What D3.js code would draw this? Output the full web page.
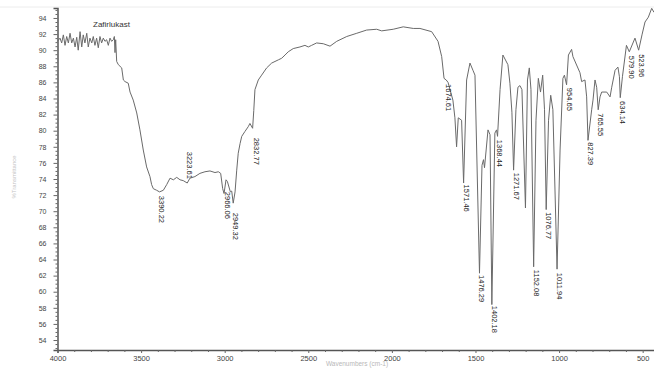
<!DOCTYPE html>
<html>
<head>
<meta charset="utf-8">
<script src="https://cdn.jsdelivr.net/npm/d3@7/dist/d3.min.js"></script>
<style>
body { margin: 0; background: #fff; }
text { font-family: "Liberation Sans", Arial, sans-serif; }
</style>
</head>
<body>
<div id="chart"></div>
<script>
// spectrum (cm-1 / %T)
var wavenumber = [4000,3985,3975,3965,3955,3945,3935,3925,3915,3905,3895,3885,3876,3865,3855,3846,3836,3825,3816,3806,
  3795,3786,3776,3766,3756,3746,3736,3726,3716,3706,3696,3686,3676,3666,3660,3656,3652,3646,3636,3626,
  3616,3606,3596,3577,3566,3547,3526,3507,3487,3467,3447,3437,3427,3407,3390,3367,3347,3327,3307,3287,
  3267,3248,3224,3208,3178,3148,3118,3088,3058,3038,3024,3012,3004,2992,2984,2966,2958,2949,2938,2928,
  2919,2908,2898,2879,2859,2849,2833,2826,2819,2799,2779,2749,2719,2679,2659,2639,2620,2590,2550,2520,
  2500,2480,2450,2410,2370,2330,2270,2210,2151,2091,2061,1992,1932,1872,1832,1762,1724,1702,1688,1675,
  1664,1635,1623,1613,1603,1583,1571,1553,1533,1515,1503,1476,1461,1452,1446,1425,1413,1402,1384,1374,
  1368,1353,1336,1306,1294,1282,1272,1258,1246,1234,1222,1201,1189,1178,1168,1152,1138,1124,1111,1098,
  1087,1077,1063,1050,1037,1012,994,977,968,955,944,925,917,875,865,845,835,827,805,797,
  785,775,766,755,745,715,695,685,665,648,639,634,621,597,580,546,524,504,486,466,446,432];
var transmittance = [91.1,91.5,90.9,91.9,90.6,91.7,90.9,92.1,90.9,91.5,90.4,91.6,90.0,92.3,90.4,91.9,90.9,92.1,90.4,91.5,
  90.9,91.7,90.6,91.5,90.3,91.7,90.9,91.5,91.1,91.3,90.6,91.5,91.1,91.3,91.7,89.7,91.3,88.6,88.2,88.0,
  87.8,86.3,86.1,85.9,84.8,83.8,82.2,80.1,77.6,75.5,74.3,73.3,72.8,72.6,72.4,72.6,73.3,74.1,73.9,74.2,
  73.9,73.8,73.5,74.1,74.3,74.7,74.9,75.0,74.8,74.9,74.7,72.8,72.2,73.9,73.7,72.4,72.5,71.0,72.4,75.1,
  77.2,78.4,79.3,79.9,80.5,80.9,80.3,82.5,85.1,86.3,86.9,87.8,88.4,88.8,89.0,89.4,89.8,90.2,90.4,90.6,
  90.4,90.6,90.9,90.8,90.5,91.1,91.7,92.1,92.5,92.6,92.4,92.6,92.9,92.7,92.7,92.3,91.1,89.2,86.5,86.3,
  86.0,83.8,81.6,78.0,81.6,81.3,73.5,86.3,88.4,87.5,86.9,62.3,75.7,76.4,75.4,80.1,79.5,58.4,79.7,80.1,
  79.3,85.1,89.4,88.2,85.9,82.3,75.1,82.6,85.4,85.6,85.1,70.4,86.3,87.8,85.1,63.1,81.3,86.5,84.8,86.9,
  82.6,70.2,81.3,84.4,82.6,62.8,77.6,86.5,86.9,85.7,89.4,90.1,89.2,87.2,86.1,86.3,84.2,78.8,82.6,83.8,
  86.3,85.4,82.6,84.2,84.8,84.8,84.2,85.4,87.5,87.9,86.7,84.1,86.7,90.6,89.8,91.5,90.0,91.9,93.5,94.1,95.2,94.7];

var peaks = [3390.22,3223.61,2966.06,2949.32,2832.77,1674.61,1571.46,1476.29,1402.18,1368.44,1271.67,
  1152.08,1076.77,1011.94,954.65,827.39,765.55,634.14,579.90,523.96];
var peaksAbove = [3223.61];

var xTicks = [4000,3500,3000,2500,2000,1500,1000,500];
var yTicks = d3.range(54, 95, 2);

var title = "Zafirlukast";
var xTitle = "Wavenumbers (cm-1)";
var yTitle = "%Transmittance";

// small label shifts so the crowded C-H labels do not collide
var labelNudge = { "2966.06": [-5, -4], "2949.32": [0, 6], "2832.77": [1, 6] };

var w = 654, h = 368;
var svg = d3.select("#chart").append("svg")
    .attr("width", w).attr("height", h)
    .style("display", "block");

var x = d3.scaleLinear().domain([4000, 428]).range([57.5, 654.7]);
var y = d3.scaleLinear().domain([52.76, 95.24]).range([350, 8]);

// faint scan border at the top
svg.append("line").attr("x1", 0).attr("x2", w).attr("y1", 7).attr("y2", 7)
    .attr("stroke", "#ececec").attr("stroke-width", 1);

// y axis, major + minor ticks
var yAxis = svg.append("g").attr("transform", "translate(57.5,0)")
    .call(d3.axisLeft(y).tickValues(yTicks).tickSize(4).tickPadding(7).tickFormat(d3.format("d")));
svg.append("g").attr("transform", "translate(57.5,0)")
    .call(d3.axisLeft(y).tickValues(d3.range(53, 95.1, 0.5).filter(function(d) { return d % 2 != 0; }))
      .tickSize(2).tickFormat(""))
  .select(".domain").remove();

// x axis
var xAxis = svg.append("g").attr("transform", "translate(0,350)")
    .call(d3.axisBottom(x).tickValues(xTicks).tickSize(3).tickPadding(3).tickFormat(d3.format("d")));
svg.append("g").attr("transform", "translate(0,350)")
    .call(d3.axisBottom(x).tickValues(d3.range(4000, 428, -100).filter(function(d) { return d % 500 != 0; }))
      .tickSize(2).tickFormat(""))
  .select(".domain").remove();

svg.selectAll(".domain").attr("stroke", "#555").attr("stroke-width", 1.5);
svg.selectAll(".tick line").attr("stroke", "#666");
yAxis.selectAll("text").attr("font-size", 7).attr("fill", "#444");
xAxis.selectAll("text").attr("font-size", 7.5).attr("fill", "#444");

// axis titles (pale on the scan)
svg.append("text")
    .attr("transform", "translate(16,177) rotate(-90)")
    .attr("text-anchor", "middle")
    .attr("font-size", 6)
    .attr("fill", "#c4c4c4")
    .text(yTitle);
svg.append("text")
    .attr("x", 357).attr("y", 366)
    .attr("text-anchor", "middle")
    .attr("font-size", 6.5)
    .attr("fill", "#b8b8b8")
    .text(xTitle);

svg.append("text")
    .attr("x", 93).attr("y", 27)
    .attr("font-size", 8)
    .attr("fill", "#333")
    .text(title);

// spectrum
var pts = wavenumber.map(function(d, i) { return [d, transmittance[i]]; });
var line = d3.line()
    .x(function(d) { return x(d[0]); })
    .y(function(d) { return y(d[1]); });

svg.append("path")
    .datum(pts)
    .attr("fill", "none")
    .attr("stroke", "#6a6a6a")
    .attr("stroke-width", 1)
    .attr("stroke-linejoin", "round")
    .attr("d", line);

// value of the trace at a wavenumber
function valueAt(wn) {
  for (var i = 0; i < wavenumber.length - 1; i++) {
    var a = wavenumber[i], b = wavenumber[i + 1];
    if (wn <= a && wn >= b) {
      var t = (a - wn) / (a - b);
      return transmittance[i] + t * (transmittance[i + 1] - transmittance[i]);
    }
  }
  return transmittance[transmittance.length - 1];
}

// peak labels, vertical, just below each minimum
svg.append("g").selectAll("text")
  .data(peaks)
  .enter().append("text")
    .attr("transform", function(d) {
      var key = d.toFixed(2);
      var n = labelNudge[key] || [0, 0];
      var above = peaksAbove.indexOf(d) >= 0;
      var py = y(valueAt(d)) + (above ? -4 : 4) + n[1];
      return "translate(" + (x(d) + n[0]) + "," + py + ") rotate(90)";
    })
    .attr("text-anchor", function(d) { return peaksAbove.indexOf(d) >= 0 ? "end" : "start"; })
    .attr("font-size", 7.5)
    .attr("fill", "#222")
    .text(function(d) { return d.toFixed(2); });
</script>
</body>
</html>
